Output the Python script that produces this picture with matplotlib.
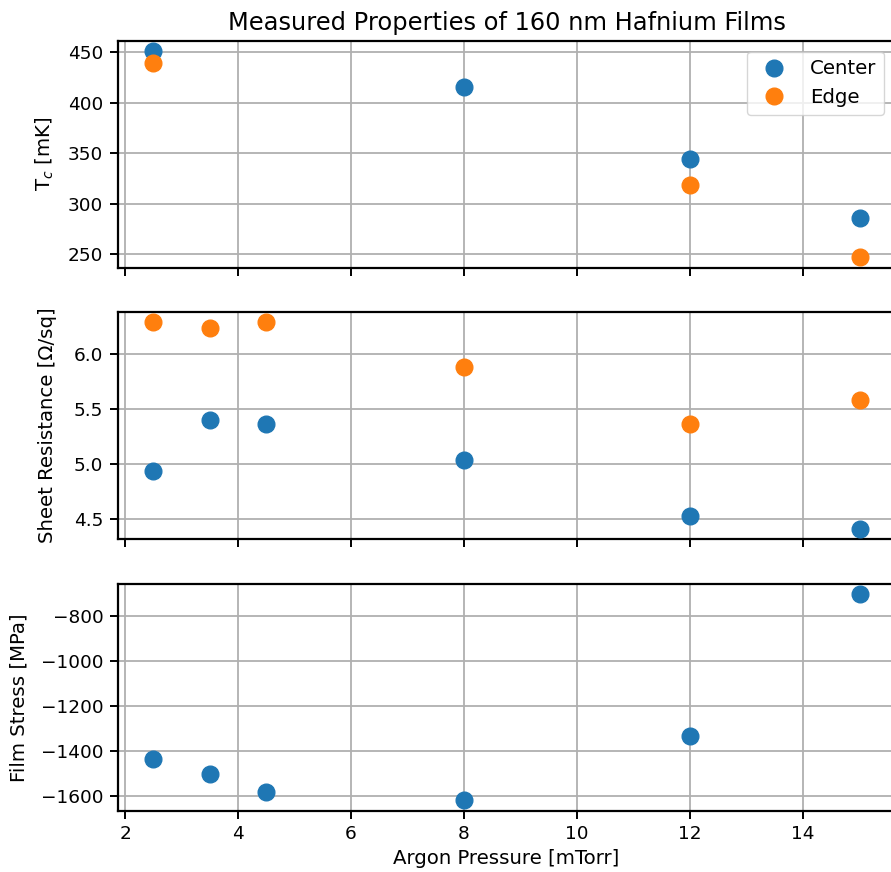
import matplotlib
matplotlib.use("Agg")
import matplotlib.pyplot as plt

# Data
pressure_tc = [2.5, 8, 12, 15]
tc_center = [451, 415, 344, 286]
pressure_tc_edge = [2.5, 12, 15]
tc_edge = [439, 319, 247]

pressure_rs = [2.5, 3.5, 4.5, 8, 12, 15]
rs_center = [4.94, 5.40, 5.36, 5.04, 4.53, 4.41]
rs_edge = [6.29, 6.24, 6.29, 5.88, 5.36, 5.58]

pressure_stress = [2.5, 3.5, 4.5, 8, 12, 15]
stress_center = [-1433, -1499, -1582, -1618, -1331, -703]

W, H = 891, 872
plt.rcParams.update({
    "font.family": "DejaVu Sans",
    "font.size": 14.2,
    "xtick.labelsize": 13.3,
    "ytick.labelsize": 13.3,
    "axes.labelsize": 14.2,
    "legend.fontsize": 14.2,
    "axes.linewidth": 1.6,
    "xtick.major.size": 5.6,
    "ytick.major.size": 5.6,
    "xtick.major.width": 1.4,
    "ytick.major.width": 1.4,
    "xtick.major.pad": 5,
    "ytick.major.pad": 5,
    "grid.color": "#b0b0b0",
    "grid.linewidth": 1.3,
})

fig = plt.figure(figsize=(W / 100, H / 100), dpi=100)
x0 = 118
axw = 895 - x0
left = x0 / W
width = axw / W
tops = [40.7, 312, 583.7]
h = 227
axes = []
for i, t in enumerate(tops):
    ax = fig.add_axes([left, 1 - (t + h) / H, width, h / H],
                      sharex=axes[0] if axes else None)
    axes.append(ax)

c1, c2 = "#1f77b4", "#ff7f0e"
ms = 12

ax = axes[0]
ax.plot(pressure_tc, tc_center, "o", color=c1, ms=ms, label="Center", zorder=3)
ax.plot(pressure_tc_edge, tc_edge, "o", color=c2, ms=ms, label="Edge", zorder=3)
ax.set_ylabel("T$_c$ [mK]")
ax.set_title("Measured Properties of 160 nm Hafnium Films", fontsize=17.4, pad=8)
ax.legend(loc="upper right", handletextpad=0.8, borderaxespad=0.55)

ax = axes[1]
ax.plot(pressure_rs, rs_center, "o", color=c1, ms=ms, zorder=3)
ax.plot(pressure_rs, rs_edge, "o", color=c2, ms=ms, zorder=3)
ax.set_ylabel("Sheet Resistance [Ω/sq]")

ax = axes[2]
ax.plot(pressure_stress, stress_center, "o", color=c1, ms=ms, zorder=3)
ax.set_ylabel("Film Stress [MPa]")
ax.set_xlabel("Argon Pressure [mTorr]")

label_px = [56, 57, 29]
for ax, px in zip(axes, label_px):
    ax.yaxis.set_label_coords((px - x0) / axw, 0.5)
    ax.grid(True)
    ax.set_axisbelow(True)
for ax in axes[:2]:
    ax.tick_params(labelbottom=False)

fig.savefig("out.png", dpi=100)
